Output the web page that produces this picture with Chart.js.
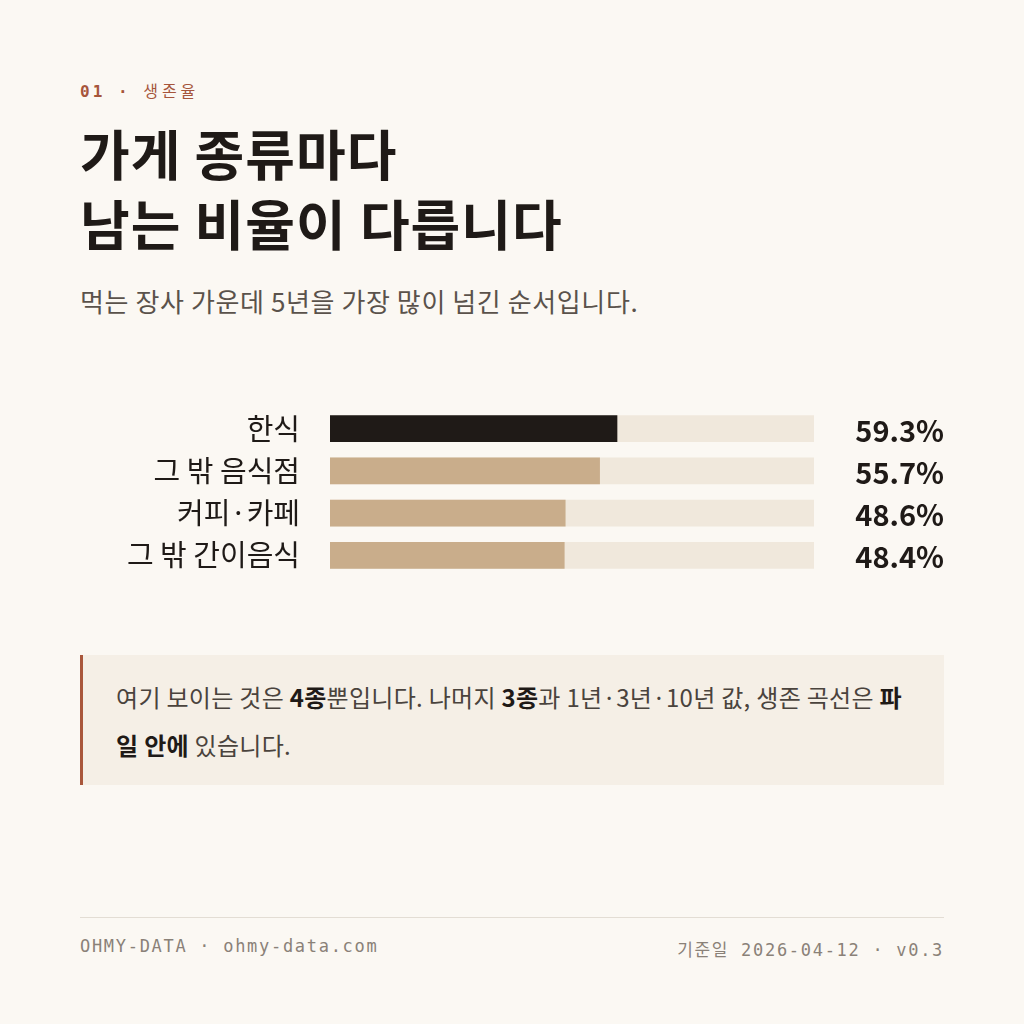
<!DOCTYPE html>
<html><head><meta charset="utf-8">
<script src="https://cdn.jsdelivr.net/npm/chart.js@4"></script>
<style>
body{margin:0;background:#fbf8f3;font-family:"Noto Sans CJK KR","Noto Sans",sans-serif;}
#wrap{position:relative;width:1024px;height:1024px;overflow:hidden;}
.kick{position:absolute;left:80px;top:78px;font-family:"DejaVu Sans Mono",monospace;font-size:16px;color:#a6553b;letter-spacing:3px;font-weight:bold}
.kick span{font-family:"Noto Sans CJK KR";font-weight:normal;letter-spacing:4px}
h1{position:absolute;left:80px;top:118px;margin:0;font-size:54px;line-height:70px;font-weight:700;color:#1f1a17;letter-spacing:1px}
.sub{position:absolute;left:80px;top:282px;font-size:26px;color:#5a524b;letter-spacing:0.6px}
#cw{position:absolute;left:80px;top:368px;width:864px;height:248px}
.box{position:absolute;left:80px;top:655px;width:864px;height:130px;background:#f5efe6;border-left:3px solid #a9573c;padding:18px 40px 0 33px;box-sizing:border-box;font-size:24px;line-height:48px;color:#4a433d;letter-spacing:0.3px}
.box b{color:#1f1a17}
.rule{position:absolute;left:80px;top:917px;width:864px;height:1px;background:#e3ddd4}
.foot{position:absolute;top:936px;font-family:"DejaVu Sans Mono",monospace;font-size:17px;color:#8a8178;letter-spacing:1.7px}
</style></head><body><div id="wrap">
<div class="kick">01 · <span>생존율</span></div>
<h1>가게 종류마다<br>남는 비율이 다릅니다</h1>
<div class="sub">먹는 장사 가운데 5년을 가장 많이 넘긴 순서입니다.</div>
<div id="cw"><canvas id="cv"></canvas></div>
<div class="box">여기 보이는 것은 <b>4종</b>뿐입니다. 나머지 <b>3종</b>과 1년·3년·10년 값, 생존 곡선은 <b>파일 안에</b> 있습니다.</div>
<div class="rule"></div>
<div class="foot" style="left:80px">OHMY-DATA · ohmy-data.com</div>
<div class="foot" style="right:80px"><span style="font-family:'Noto Sans CJK KR'">기준일</span> 2026-04-12 · v0.3</div>
</div>
<script>
const categories=["한식","그 밖 음식점","커피·카페","그 밖 간이음식"];
const survival=[59.3,55.7,48.6,48.4];
const track=[100,100,100,100];
const barColors=["#1f1a17","#c9ad8b","#c9ad8b","#c9ad8b"];
const valuePlugin={id:"vals",afterDatasetsDraw(c){const ctx=c.ctx;const meta=c.getDatasetMeta(1);ctx.save();ctx.font="bold 29px 'Noto Sans CJK KR'";ctx.fillStyle="#1f1a17";ctx.textAlign="right";ctx.textBaseline="middle";meta.data.forEach((b,i)=>ctx.fillText(survival[i].toFixed(1)+"%",c.width/(window.devicePixelRatio||1),b.y+2));ctx.restore();}};
new Chart(document.getElementById("cv"),{type:"bar",
data:{labels:categories,datasets:[
{data:track,backgroundColor:"#f0e8dc",barThickness:26,grouped:false,order:2},
{data:survival,backgroundColor:barColors,barThickness:26,grouped:false,order:1}]},
options:{indexAxis:"y",responsive:true,maintainAspectRatio:false,animation:false,
layout:{padding:{right:130,top:0,bottom:0,left:0}},
plugins:{legend:{display:false},tooltip:{enabled:false}},
scales:{x:{display:false,min:0,max:100},
y:{grid:{display:false},border:{display:false},afterFit(a){a.width=250;},
ticks:{color:"#1f1a17",font:{size:29,family:"Noto Sans CJK KR"},padding:22,autoSkip:false}}}},
plugins:[valuePlugin]});
</script></body></html>
